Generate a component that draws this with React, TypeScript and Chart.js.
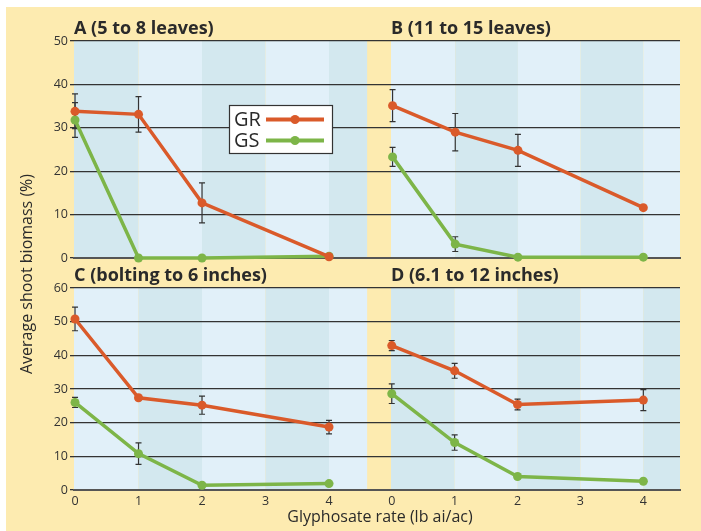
import React, { useEffect, useRef } from 'react';
import { Chart, registerables } from 'chart.js';

Chart.register(...registerables);

// ---------- data ----------
const rates = [0, 1, 2, 4];
const xTickValues = [0, 1, 2, 3, 4];
const yTicksTop = [0, 10, 20, 30, 40, 50];
const yTicksBottom = [0, 10, 20, 30, 40, 50, 60];

const titleA = 'A (5 to 8 leaves)';
const titleB = 'B (11 to 15 leaves)';
const titleC = 'C (bolting to 6 inches)';
const titleD = 'D (6.1 to 12 inches)';

const grA = [33.8, 33.1, 12.7, 0.3];
const grAErr = [4.0, 4.1, 4.6, 0];
const gsA = [31.8, 0, 0, 0.4];
const gsAErr = [4.0, 0, 0, 0];

const grB = [35.1, 29.0, 24.8, 11.6];
const grBErr = [3.7, 4.3, 3.7, 0];
const gsB = [23.3, 3.2, 0.2, 0.2];
const gsBErr = [2.2, 1.7, 0, 0];

const grC = [50.8, 27.4, 25.2, 18.7];
const grCErr = [3.5, 0, 2.7, 2.0];
const gsC = [26.0, 10.8, 1.4, 1.9];
const gsCErr = [1.5, 3.2, 0, 0];

const grD = [42.9, 35.4, 25.4, 26.7];
const grDErr = [1.5, 2.2, 1.6, 3.1];
const gsD = [28.6, 14.1, 4.0, 2.6];
const gsDErr = [2.9, 2.3, 0, 0];

const seriesNames = ['GR', 'GS'];
const yAxisTitle = 'Average shoot biomass (%)';
const xAxisTitle = 'Glyphosate rate (lb ai/ac)';

// ---------- styles ----------
const FONT = '"Open Sans", "Noto Sans", sans-serif';
const GR_COLOR = '#da5a2a';
const GS_COLOR = '#7db548';
const LIGHT = '#e1f0f9';
const DARK = '#d3e8ef';
const YELLOW = '#fdebb0';
const TEXT = '#2a2a2a';

type Spec = {
  title: string;
  gr: number[]; grErr: number[]; gs: number[]; gsErr: number[];
  yMax: number; yTicks: number[];
  xMin: number; xMax: number; gap: number | null;
  darkFirst: boolean;
  showY: boolean; showX: boolean;
  yWidth: number; xHeight: number;
  pad: { left: number; right: number; top: number; bottom: number };
  legend?: boolean; sharedTitles?: boolean;
};

const bandsPlugin = {
  id: 'bands',
  beforeDraw(chart: any, _args: any, opts: any) {
    const { ctx, chartArea: a, scales } = chart;
    const x = scales.x;
    const end = opts.gap != null ? opts.gap : x.max;
    const edges = [x.min, 1, 2, 3, 4, end];
    ctx.save();
    for (let i = 0; i < 5; i++) {
      const x0 = x.getPixelForValue(edges[i]);
      const x1 = x.getPixelForValue(edges[i + 1]);
      ctx.fillStyle = (i % 2 === 0) === opts.darkFirst ? DARK : LIGHT;
      ctx.fillRect(x0, a.top, x1 - x0, a.bottom - a.top);
    }
    ctx.restore();
  },
};

const errorBarsPlugin = {
  id: 'errorBars',
  beforeDatasetsDraw(chart: any) {
    const { ctx, scales } = chart;
    const x = scales.x, y = scales.y;
    ctx.save();
    ctx.strokeStyle = '#333';
    ctx.lineWidth = 1.2;
    chart.data.datasets.forEach((ds: any) => {
      const errs: number[] = ds.errors || [];
      ds.data.forEach((p: any, j: number) => {
        const e = errs[j];
        if (!e) return;
        const px = x.getPixelForValue(p.x);
        const t = y.getPixelForValue(p.y + e);
        const b = y.getPixelForValue(p.y - e);
        ctx.beginPath();
        ctx.moveTo(px, t); ctx.lineTo(px, b);
        ctx.moveTo(px - 3, t); ctx.lineTo(px + 3, t);
        ctx.moveTo(px - 3, b); ctx.lineTo(px + 3, b);
        ctx.stroke();
      });
    });
    ctx.restore();
  },
};

const legendPlugin = {
  id: 'boxLegend',
  afterDraw(chart: any, _args: any, opts: any) {
    if (!opts.show) return;
    const { ctx } = chart;
    ctx.save();
    ctx.fillStyle = '#ffffff';
    ctx.fillRect(229, 105, 104, 49);
    ctx.strokeStyle = '#333';
    ctx.lineWidth = 1.2;
    ctx.strokeRect(229.5, 105.5, 103, 48);
    const rows = [
      { name: seriesNames[0], color: GR_COLOR, y: 119.5 },
      { name: seriesNames[1], color: GS_COLOR, y: 140.5 },
    ];
    rows.forEach((r) => {
      ctx.fillStyle = TEXT;
      ctx.font = `20px ${FONT}`;
      ctx.textBaseline = 'middle';
      ctx.textAlign = 'left';
      ctx.fillText(r.name, 234, r.y + 1);
      ctx.strokeStyle = r.color;
      ctx.lineWidth = 4;
      ctx.beginPath();
      ctx.moveTo(266, r.y); ctx.lineTo(324, r.y);
      ctx.stroke();
      ctx.fillStyle = r.color;
      ctx.beginPath();
      ctx.arc(295, r.y, 4.5, 0, Math.PI * 2);
      ctx.fill();
    });
    ctx.restore();
  },
};

const sharedTitlesPlugin = {
  id: 'sharedTitles',
  afterDraw(chart: any, _args: any, opts: any) {
    if (!opts.show) return;
    const { ctx } = chart;
    ctx.save();
    ctx.fillStyle = TEXT;
    ctx.font = `16px ${FONT}`;
    ctx.textAlign = 'center';
    ctx.textBaseline = 'middle';
    ctx.fillText(xAxisTitle, 380, 517);
    ctx.translate(27, 274);
    ctx.rotate(-Math.PI / 2);
    ctx.fillText(yAxisTitle, 0, 0);
    ctx.restore();
  },
};

function zeroPad(s: any) {
  s.paddingLeft = 0; s.paddingRight = 0; s.paddingTop = 0; s.paddingBottom = 0;
}

function makeConfig(p: Spec): any {
  const mk = (vals: number[]) => vals.map((v, i) => ({ x: rates[i], y: v }));
  return {
    type: 'line',
    data: {
      datasets: [
        {
          label: seriesNames[0], data: mk(p.gr), errors: p.grErr,
          borderColor: GR_COLOR, backgroundColor: GR_COLOR, pointBackgroundColor: GR_COLOR,
          pointBorderColor: GR_COLOR, borderWidth: 3.5, pointRadius: 4.5, pointBorderWidth: 0,
          tension: 0, clip: false,
        },
        {
          label: seriesNames[1], data: mk(p.gs), errors: p.gsErr,
          borderColor: GS_COLOR, backgroundColor: GS_COLOR, pointBackgroundColor: GS_COLOR,
          pointBorderColor: GS_COLOR, borderWidth: 3.5, pointRadius: 4.5, pointBorderWidth: 0,
          tension: 0, clip: false,
        },
      ],
    },
    options: {
      responsive: false,
      animation: false,
      events: [],
      layout: { padding: p.pad },
      scales: {
        x: {
          type: 'linear', min: p.xMin, max: p.xMax,
          afterBuildTicks: (s: any) => { s.ticks = xTickValues.map((v) => ({ value: v })); },
          ticks: { display: p.showX, font: { family: FONT, size: 12.5 }, color: '#333', padding: 4, maxRotation: 0, autoSkip: false },
          grid: { display: false, drawTicks: false },
          border: { display: true, color: '#555', width: 2 },
          afterFit: (s: any) => { s.height = p.xHeight; zeroPad(s); },
        },
        y: {
          type: 'linear', min: 0, max: p.yMax,
          afterBuildTicks: (s: any) => { s.ticks = p.yTicks.map((v) => ({ value: v })); },
          ticks: { display: p.showY, font: { family: FONT, size: 12.5 }, color: '#333', padding: 2, autoSkip: false },
          grid: { color: '#333', lineWidth: 1.3, drawTicks: p.showY, tickLength: 4, tickColor: '#333' },
          border: { display: false },
          afterFit: (s: any) => { s.width = p.yWidth; zeroPad(s); },
        },
      },
      plugins: {
        legend: { display: false },
        tooltip: { enabled: false },
        title: {
          display: true, text: p.title, align: 'start', fullSize: false, position: 'top',
          color: TEXT, font: { family: FONT, size: 18, weight: 'bold', lineHeight: 1 },
          padding: { top: 0, bottom: 3 },
        },
        bands: { darkFirst: p.darkFirst, gap: p.gap },
        boxLegend: { show: !!p.legend },
        sharedTitles: { show: !!p.sharedTitles },
      },
    },
    plugins: [bandsPlugin, errorBarsPlugin, legendPlugin, sharedTitlesPlugin],
  };
}

const specs: Spec[] = [
  {
    title: titleA, gr: grA, grErr: grAErr, gs: gsA, gsErr: gsAErr,
    yMax: 50, yTicks: yTicksTop, xMin: -0.016, xMax: 4.976, gap: 4.6, darkFirst: true,
    showY: true, showX: false, yWidth: 74, xHeight: 0,
    pad: { left: 0, right: 310, top: 20, bottom: 273 }, legend: true,
  },
  {
    title: titleB, gr: grB, grErr: grBErr, gs: gsB, gsErr: gsBErr,
    yMax: 50, yTicks: yTicksTop, xMin: -0.025, xMax: 4.585, gap: null, darkFirst: false,
    showY: false, showX: false, yWidth: 0, xHeight: 0,
    pad: { left: 391, right: 21, top: 20, bottom: 273 },
  },
  {
    title: titleC, gr: grC, grErr: grCErr, gs: gsC, gsErr: gsCErr,
    yMax: 60, yTicks: yTicksBottom, xMin: -0.016, xMax: 4.976, gap: 4.6, darkFirst: false,
    showY: true, showX: true, yWidth: 74, xHeight: 41,
    pad: { left: 0, right: 310, top: 267, bottom: 0 }, sharedTitles: true,
  },
  {
    title: titleD, gr: grD, grErr: grDErr, gs: gsD, gsErr: gsDErr,
    yMax: 60, yTicks: yTicksBottom, xMin: -0.012, xMax: 4.583, gap: null, darkFirst: true,
    showY: false, showX: true, yWidth: 0, xHeight: 41,
    pad: { left: 391, right: 21, top: 267, bottom: 0 },
  },
];

function Panel({ spec }: { spec: Spec }) {
  const ref = useRef<HTMLCanvasElement>(null);
  useEffect(() => {
    const chart = new Chart(ref.current as HTMLCanvasElement, makeConfig(spec));
    return () => chart.destroy();
  }, [spec]);
  return (
    <canvas
      ref={ref}
      width={701}
      height={531}
      style={{ position: 'absolute', left: 0, top: 0, width: 701, height: 531 }}
    />
  );
}

export default function App() {
  return (
    <div style={{ position: 'fixed', left: 0, top: 0, width: 701, height: 531, background: '#ffffff', overflow: 'hidden' }}>
      <div style={{ position: 'absolute', left: 6, top: 7, right: 0, bottom: 0, background: YELLOW }} />
      {specs.map((s, i) => (
        <Panel key={i} spec={s} />
      ))}
    </div>
  );
}
